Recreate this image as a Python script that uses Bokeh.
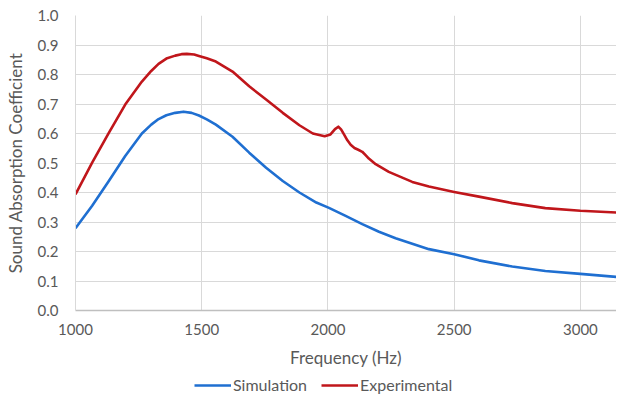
from bokeh.plotting import figure
from bokeh.layouts import column
from bokeh.models import Range1d, Legend, LegendItem, FixedTicker, CustomJSTickFormatter
from bokeh.embed import file_html
from bokeh.resources import INLINE

sim_freq = [1000, 1066, 1132, 1197, 1263, 1300, 1329, 1360, 1395, 1428, 1460, 1489,
            1520, 1556, 1622, 1688, 1755, 1821, 1887, 1954, 2004, 2070, 2136, 2202,
            2268, 2400, 2500, 2598, 2730, 2861, 3000, 3143]
sim_alpha = [0.279, 0.355, 0.439, 0.524, 0.600, 0.630, 0.649, 0.662, 0.670, 0.674, 0.670, 0.661,
             0.648, 0.630, 0.589, 0.535, 0.484, 0.439, 0.400, 0.366, 0.348, 0.321, 0.293, 0.267,
             0.245, 0.208, 0.191, 0.170, 0.149, 0.134, 0.124, 0.114]

exp_freq = [1000, 1066, 1132, 1197, 1263, 1300, 1329, 1360, 1395, 1420, 1441, 1470,
            1489, 1520, 1556, 1622, 1688, 1755, 1821, 1887, 1940, 1987, 2010, 2028,
            2041, 2052, 2063, 2077, 2090, 2105, 2120, 2136, 2150, 2162, 2189, 2241,
            2334, 2400, 2500, 2598, 2730, 2861, 3000, 3143]
exp_alpha = [0.394, 0.501, 0.602, 0.698, 0.776, 0.812, 0.836, 0.854, 0.864, 0.869, 0.870, 0.868,
             0.863, 0.855, 0.844, 0.810, 0.760, 0.715, 0.670, 0.628, 0.600, 0.591, 0.597, 0.615,
             0.623, 0.614, 0.598, 0.577, 0.562, 0.551, 0.545, 0.538, 0.526, 0.515, 0.496, 0.470,
             0.436, 0.420, 0.402, 0.386, 0.364, 0.347, 0.338, 0.332]

series_names = ["Simulation", "Experimental"]
series_colors = ["#1f6fd1", "#c0161b"]

x_ticks = [1000, 1500, 2000, 2500, 3000]
y_ticks = [0.0, 0.1, 0.2, 0.3, 0.4, 0.5, 0.6, 0.7, 0.8, 0.9, 1.0]

FONT = "Lato"
TXT = "#595959"
GRID = "#d9d9d9"
LW = 2.6

p = figure(width=616, height=372, output_backend="svg", toolbar_location=None,
           x_range=Range1d(1000, 3143), y_range=Range1d(0, 1.0),
           min_border_left=75, min_border_right=0, min_border_top=15, min_border_bottom=62)
p.outline_line_color = None
p.background_fill_color = "white"

p.line(sim_freq, sim_alpha, line_color=series_colors[0], line_width=LW, line_join="round")
p.line(exp_freq, exp_alpha, line_color=series_colors[1], line_width=LW, line_join="round")

for ax in (p.xaxis[0], p.yaxis[0]):
    ax.major_tick_line_color = None
    ax.minor_tick_line_color = None
    ax.major_label_text_font = FONT
    ax.major_label_text_font_size = "15px"
    ax.major_label_text_color = TXT
    ax.axis_label_text_font = FONT
    ax.axis_label_text_font_size = "17px"
    ax.axis_label_text_font_style = "normal"
    ax.axis_label_text_color = TXT

p.xaxis.ticker = FixedTicker(ticks=x_ticks)
p.yaxis.ticker = FixedTicker(ticks=y_ticks)
p.yaxis.formatter = CustomJSTickFormatter(code="return tick.toFixed(1);")
p.xaxis.axis_label = "Frequency (Hz)"
p.yaxis.axis_label = "Sound Absorption Coefficient"
p.xaxis.axis_line_color = "#bfbfbf"
p.xaxis.axis_line_width = 1.5
p.yaxis.axis_line_color = GRID
p.xaxis.major_label_standoff = 7
p.yaxis.major_label_standoff = 11
p.xaxis.axis_label_standoff = 9
p.yaxis.axis_label_standoff = 9

p.xgrid.ticker = FixedTicker(ticks=x_ticks)
p.ygrid.ticker = FixedTicker(ticks=y_ticks)
p.xgrid.grid_line_color = GRID
p.ygrid.grid_line_color = GRID

# legend strip below the chart (its lines lie outside its view; only the legend shows)
lg = figure(width=616, height=25, output_backend="svg", toolbar_location=None,
            x_range=Range1d(0, 1), y_range=Range1d(0, 1),
            x_axis_type=None, y_axis_type=None,
            min_border_left=0, min_border_right=0, min_border_top=0, min_border_bottom=0)
lg.outline_line_color = None
lg.xgrid.visible = False
lg.ygrid.visible = False
items = []
for name, col, xs, ys in zip(series_names, series_colors,
                             [sim_freq, exp_freq], [sim_alpha, exp_alpha]):
    r = lg.line(x=xs, y=ys, line_color=col, line_width=LW)
    items.append(LegendItem(label=name, renderers=[r]))

legend = Legend(items=items, orientation="horizontal", location=(119, 3),
                label_text_font=FONT, label_text_font_size="16px", label_text_color=TXT,
                glyph_width=37, glyph_height=14, label_standoff=2, spacing=14,
                padding=0, margin=0, background_fill_alpha=0, border_line_color=None)
lg.add_layout(legend, "center")

layout = column(p, lg, spacing=0)
open("out.html", "w").write(file_html(layout, INLINE))
